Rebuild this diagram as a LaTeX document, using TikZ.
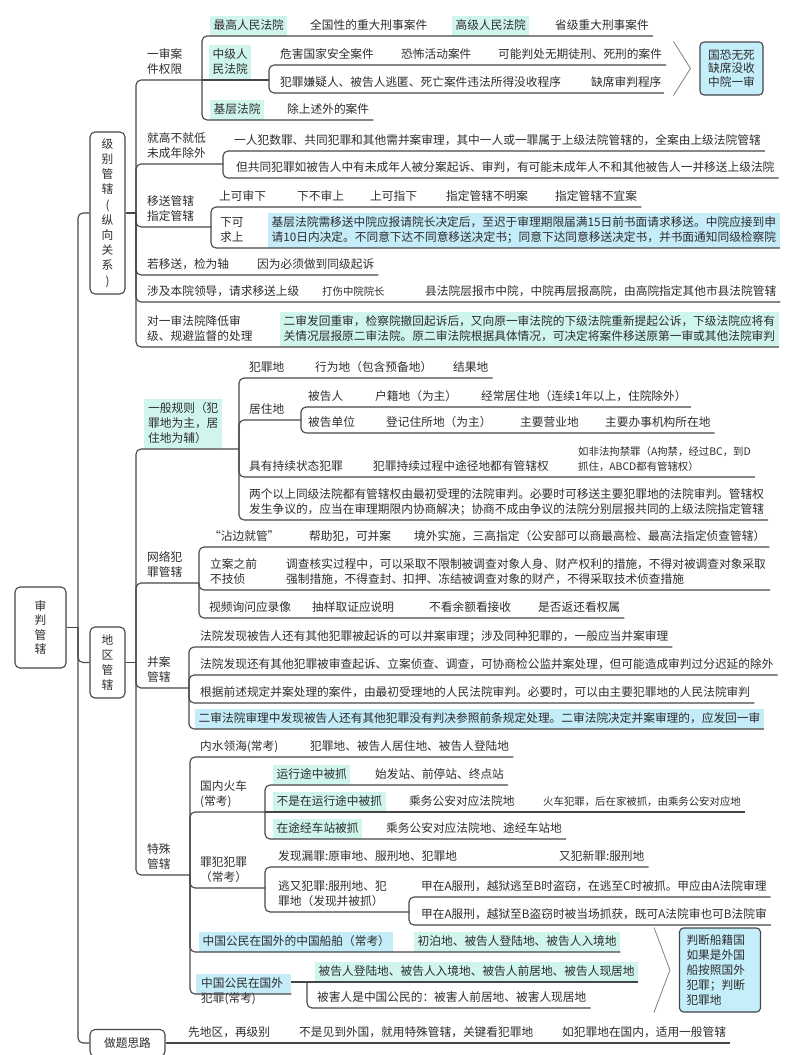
\documentclass[tikz,border=0pt]{standalone}
\usepackage{fontspec}
\setmainfont{Noto Sans CJK SC}
\usepackage{tikz}

\definecolor{linec}{RGB}{70,70,70}
\definecolor{textc}{RGB}{45,45,45}
\definecolor{mint}{RGB}{208,245,236}
\definecolor{sky}{RGB}{196,236,249}
\definecolor{callout}{RGB}{196,238,250}

\newcommand\txtsz{\fontsize{11.7}{15}\selectfont}
\newcommand\smsz{\fontsize{10.4}{15}\selectfont}

\tikzset{
	topic/.style={draw=linec, line width=1.1pt, fill=white, rounded corners=5pt, align=center, font=\txtsz, text=textc, inner sep=0pt},
	leaf/.style={anchor=south west, inner xsep=0pt, inner ysep=3.5pt, text depth=2.5pt, align=left, font=\txtsz, text=textc},
	hlm/.style={leaf, fill=mint, inner xsep=3.5pt, inner ysep=3.5pt},
	hlb/.style={leaf, fill=sky, inner xsep=3.5pt, inner ysep=3.5pt},
	aside/.style={leaf, font=\smsz},
	callbox/.style={draw=linec, line width=1.1pt, fill=callout, rounded corners=4pt, align=left, text=textc},
	link/.style={every edge/.style={draw=linec, line width=1.1pt, rounded corners=5pt}, to path={|- (\tikztotarget)}},
	flat/.style={every edge/.style={draw=linec, line width=1.1pt}},
	fold/.style={draw=gray, line width=0.8pt},
}

\begin{document}
\begin{tikzpicture}[x=1pt,y=-1pt]
	\useasboundingbox (0,0) rectangle (800,1055);

	\node[topic, minimum width=51pt, minimum height=81pt, font=\fontsize{11.7}{14.5}\selectfont] (root) at (40.5,627.5) {审\\判\\管\\辖};
	\node[topic, minimum width=35pt, minimum height=162pt, font=\fontsize{11.7}{15.2}\selectfont] (jibie) at (107.5,213) {级\\别\\管\\辖\\(\\纵\\向\\关\\系\\)};
	\node[topic, minimum width=35pt, minimum height=71pt] (diqu) at (107.5,662.5) {地\\区\\管\\辖};
	\node[topic, minimum width=75pt, minimum height=27pt] (zuoti) at (127.5,1043) {做题思路};

	\coordinate (mj) at (78,627.5);
	\path [flat] (root.east) edge (mj);
	\path [link] (mj) edge (jibie.west) edge (diqu.west) edge (zuoti.west);

	\coordinate (jb) at (136,213);
	\path [flat] (jibie.east) edge (jb);

	\node[leaf] (ysqx) at (147,80) {一审案\\件权限};
	\coordinate (ysj) at (202,80);
	\node[hlm] (zgfy) at (210,36) {最高人民法院};
	\node[leaf] (zgaj) at (310,36) {全国性的重大刑事案件};
	\node[hlm] (gjfy) at (452,36) {高级人民法院};
	\node[leaf] (gjaj) at (555,36) {省级重大刑事案件};
	\node[hlm] (zjfy) at (209,80) {中级人\\民法院};
	\coordinate (zjj) at (269,80);
	\node[leaf] (whaq) at (280,65) {危害国家安全案件};
	\node[leaf] (kbhd) at (401,65) {恐怖活动案件};
	\node[leaf] (knpc) at (498,65) {可能判处无期徒刑、死刑的案件};
	\node[leaf] (mssx) at (280,93) {犯罪嫌疑人、被告人逃匿、死亡案件违法所得没收程序};
	\node[leaf] (qxsp) at (591,93) {缺席审判程序};
	\coordinate (zj1) at (666,65);
	\coordinate (zj2) at (664,93);
	\node[hlm] (jcfy) at (210,120) {基层法院};
	\node[leaf] (jcaj) at (287,120) {除上述外的案件};
	\node[callbox, minimum width=63pt, minimum height=53pt, inner xsep=5pt, font=\fontsize{11.7}{13.5}\selectfont] (gkws) at (731.5,68.5) {国恐无死\\缺席没收\\中院一审};
	\draw[fold] ([xshift=-26pt]gkws.north west) -- ([xshift=-9pt]gkws.west) -- ([xshift=-26pt]gkws.south west);

	\path [link] (jb) edge (ysj);
	\path [link] (ysj) edge ([xshift=4pt]gjaj.south east) edge ([xshift=4pt]jcaj.south east);
	\path [flat] (ysj) edge (zjj);
	\path [link] (zjj) edge (zj1) edge (zj2);

	\node[leaf] (jgbd) at (147,164) {就高不就低\\未成年除外};
	\coordinate (jgj) at (223,164);
	\node[leaf] (bgx1) at (234,151) {一人犯数罪、共同犯罪和其他需并案审理，其中一人或一罪属于上级法院管辖的，全案由上级法院管辖};
	\node[leaf] (bgx2) at (236,178) {但共同犯罪如被告人中有未成年人被分案起诉、审判，有可能未成年人不和其他被告人一并移送上级法院};
	\path [link] (jb) edge (jgj);
	\path [link] (jgj) edge ([xshift=4pt]bgx1.south east) edge ([xshift=4pt]bgx2.south east);

	\node[leaf] (yszd) at (147,227) {移送管辖\\指定管辖};
	\coordinate (yzj) at (211,227);
	\node[leaf] (sksx) at (219,207) {上可审下};
	\node[leaf] (xbss) at (297,207) {下不审上};
	\node[leaf] (skzx) at (370,207) {上可指下};
	\node[leaf] (zdbm) at (446,207) {指定管辖不明案};
	\node[leaf] (zdby) at (555,207) {指定管辖不宜案};
	\node[leaf] (xkqs) at (220,248) {下可\\求上};
	\node[hlb] (qsgc) at (268,248) {基层法院需移送中院应报请院长决定后，至迟于审理期限届满15日前书面请求移送。中院应接到申\\请10日内决定。不同意下达不同意移送决定书；同意下达同意移送决定书，并书面通知同级检察院};
	\path [link] (jb) edge (yzj);
	\path [link] (yzj) edge ([xshift=4pt]zdby.south east) edge (qsgc.south east);

	\node[leaf] (rysj) at (147,275) {若移送，检为轴};
	\node[leaf] (tjqs) at (257,275) {因为必须做到同级起诉};
	\path [link] (jb) edge ([xshift=4pt]tjqs.south east);

	\node[leaf] (sjld) at (147,302) {涉及本院领导，请求移送上级};
	\node[aside] (dszy) at (322,302) {打伤中院院长};
	\node[leaf] (xfyb) at (425,302) {县法院层报市中院，中院再层报高院，由高院指定其他市县法院管辖};
	\path [link] (jb) edge ([xshift=4pt]xfyb.south east);

	\node[leaf] (jdsj) at (147,347) {对一审法院降低审\\级、规避监督的处理};
	\node[hlm] (ecfh) at (280,347) {二审发回重审，检察院撤回起诉后，又向原一审法院的下级法院重新提起公诉，下级法院应将有\\关情况层报原二审法院。原二审法院根据具体情况，可决定将案件移送原第一审或其他法院审判};
	\path [link] (jb) edge (ecfh.south east);

	\coordinate (dq) at (136,662.5);
	\path [flat] (diqu.east) edge (dq);

	\node[hlm, inner xsep=4pt] (ybgz) at (144,449) {一般规则（犯\\罪地为主，居\\住地为辅）};
	\coordinate (ybj) at (239,449);
	\node[leaf] (fzd) at (249,378) {犯罪地};
	\node[leaf] (xwd) at (315,378) {行为地（包含预备地）};
	\node[leaf] (jgd) at (453,378) {结果地};
	\node[leaf] (jzd) at (249,420) {居住地};
	\coordinate (jzj) at (301,420);
	\node[leaf] (bgr) at (308,407) {被告人};
	\node[leaf] (hjd) at (375,407) {户籍地（为主）};
	\node[leaf] (jcjz) at (481,407) {经常居住地（连续1年以上，住院除外）};
	\node[leaf] (bgdw) at (308,433) {被告单位};
	\node[leaf] (djzs) at (386,433) {登记住所地（为主）};
	\node[leaf] (zyyy) at (520,433) {主要营业地};
	\node[leaf] (zybs) at (605,433) {主要办事机构所在地};
	\node[leaf] (cxzt) at (249,477) {具有持续状态犯罪};
	\node[leaf] (cxgc) at (373,477) {犯罪持续过程中途径地都有管辖权};
	\node[aside] (fflj) at (578,477) {如非法拘禁罪（A拘禁，经过BC，到D\\抓住，ABCD都有管辖权）};
	\node[leaf] (lgyx) at (249,520) {两个以上同级法院都有管辖权由最初受理的法院审判。必要时可移送主要犯罪地的法院审判。管辖权\\发生争议的，应当在审理期限内协商解决；协商不成由争议的法院分别层报共同的上级法院指定管辖};
	\path [link] (dq) edge (ybj);
	\path [link] (ybj) edge ([xshift=4pt]jgd.south east) edge (jzj) edge ([xshift=4pt]fflj.south east) edge ([xshift=4pt]lgyx.south east);
	\path [link] (jzj) edge ([xshift=4pt]jcjz.south east) edge ([xshift=4pt]zybs.south east);

	\node[leaf] (wlfz) at (147,583) {网络犯\\罪管辖};
	\coordinate (wlj) at (199,583);
	\node[leaf] (zbjg) at (209,547) {“沾边就管”};
	\node[leaf] (bzf) at (309,547) {帮助犯，可并案};
	\node[leaf] (jwss) at (414,547) {境外实施，三高指定（公安部可以商最高检、最高法指定侦查管辖）};
	\node[leaf] (lazq) at (210,590) {立案之前\\不技侦};
	\node[leaf] (dchs) at (286,590) {调查核实过程中，可以采取不限制被调查对象人身、财产权利的措施，不得对被调查对象采取\\强制措施，不得查封、扣押、冻结被调查对象的财产，不得采取技术侦查措施};
	\node[leaf] (spxw) at (209,618) {视频询问应录像};
	\node[leaf] (cyqz) at (312,618) {抽样取证应说明};
	\node[leaf] (bkye) at (429,618) {不看余额看接收};
	\node[leaf] (sfhh) at (538,618) {是否返还看权属};
	\path [link] (dq) edge (wlj);
	\path [link] (wlj) edge ([xshift=4pt]jwss.south east) edge ([xshift=4pt]dchs.south east) edge ([xshift=4pt]sfhh.south east);

	\node[leaf] (bagx) at (147,688) {并案\\管辖};
	\coordinate (baj) at (189,688);
	\node[leaf] (ba1) at (200,647) {法院发现被告人还有其他犯罪被起诉的可以并案审理；涉及同种犯罪的，一般应当并案审理};
	\node[leaf] (ba2) at (200,675) {法院发现还有其他犯罪被审查起诉、立案侦查、调查，可协商检公监并案处理，但可能造成审判过分迟延的除外};
	\node[leaf] (ba3) at (200,703) {根据前述规定并案处理的案件，由最初受理地的人民法院审判。必要时，可以由主要犯罪地的人民法院审判};
	\node[hlb] (ba4) at (195,729) {二审法院审理中发现被告人还有其他犯罪没有判决参照前条规定处理。二审法院决定并案审理的，应发回一审};
	\path [link] (dq) edge (baj);
	\path [link] (baj) edge ([xshift=4pt]ba1.south east) edge ([xshift=4pt]ba2.south east) edge ([xshift=4pt]ba3.south east) edge (ba4.south east);

	\node[leaf] (tsgx) at (147,875) {特殊\\管辖};
	\coordinate (tsj) at (190,875);
	\node[leaf] (nsls) at (200,757) {内水领海(常考)};
	\node[leaf] (nslb) at (310,757) {犯罪地、被告人居住地、被告人登陆地};
	\node[leaf] (gnhc) at (200,812) {国内火车\\(常考)};
	\coordinate (hcj) at (265,812);
	\node[hlm] (yxtz) at (273,785) {运行途中被抓};
	\node[leaf] (sfzd) at (375,785) {始发站、前停站、终点站};
	\node[hlm] (bszy) at (273,812) {不是在运行途中被抓};
	\node[leaf] (cwga) at (409,812) {乘务公安对应法院地};
	\node[aside] (hcfz) at (543,812) {火车犯罪，后在家被抓，由乘务公安对应地};
	\node[hlm] (tjcz) at (273,839) {在途经车站被抓};
	\node[leaf] (cwtj) at (386,839) {乘务公安对应法院地、途经车站地};
	\node[leaf] (zffz) at (200,888) {罪犯犯罪\\（常考）};
	\coordinate (zfj) at (265,888);
	\node[leaf] (fxlz) at (278,867) {发现漏罪:原审地、服刑地、犯罪地};
	\node[leaf] (yfxz) at (559,867) {又犯新罪:服刑地};
	\node[leaf] (tyfz) at (278,912) {逃又犯罪:服刑地、犯\\罪地（发现并被抓）};
	\coordinate (tyj) at (409,912);
	\node[leaf] (tya) at (421,897) {甲在A服刑，越狱逃至B时盗窃，在逃至C时被抓。甲应由A法院审理};
	\node[leaf] (tyb) at (421,925) {甲在A服刑，越狱至B盗窃时被当场抓获，既可A法院审也可B法院审};
	\node[hlb] (zgcb) at (199,952) {中国公民在国外的中国船舶（常考）};
	\node[hlm] (cbd) at (414,952) {初泊地、被告人登陆地、被告人入境地};
	\node[hlb, text width=85pt, inner xsep=5pt] (zggw) at (196,994) {中国公民在国外\\犯罪(常考)};
	\coordinate (gwj) at (307,982);
	\node[hlm] (gwa) at (315,982) {被告人登陆地、被告人入境地、被告人前居地、被告人现居地};
	\node[leaf] (gwb) at (317,1008) {被害人是中国公民的：被害人前居地、被害人现居地};
	\node[callbox, text width=67pt, inner xsep=7pt, minimum height=84pt, font=\fontsize{11.7}{15}\selectfont] (pdcj) at (720,970) {判断船籍国\\如果是外国\\船按照国外\\犯罪；判断\\犯罪地};
	\draw[fold] ([xshift=-25pt]pdcj.north west) -- ([xshift=-9pt]pdcj.west) -- ([xshift=-25pt]pdcj.south west);

	\path [link] (dq) edge (tsj);
	\path [link] (tsj) edge ([xshift=4pt]nslb.south east) edge (hcj) edge (zfj) edge (cbd.south east) edge (zggw.south east);
	\path [link] (hcj) edge ([xshift=4pt]sfzd.south east) edge ([xshift=4pt]cwtj.south east);
	\path [flat] (hcj) edge ([xshift=4pt]hcfz.south east);
	\path [link] (zfj) edge ([xshift=4pt]yfxz.south east) edge (tyj);
	\path [link] (tyj) edge ([xshift=4pt]tya.south east) edge ([xshift=4pt]tyb.south east);
	\path [flat] (zggw.east |- gwj) edge (gwa.south east);
	\path [link] (gwj) edge ([xshift=4pt]gwb.south east);

	\node[leaf] (xdq) at (188,1043) {先地区，再级别};
	\node[leaf] (bsjd) at (299,1043) {不是见到外国，就用特殊管辖，关键看犯罪地};
	\node[leaf] (rfzd) at (562,1043) {如犯罪地在国内，适用一般管辖};
	\path [flat] (zuoti.east) edge ([xshift=4pt]rfzd.south east);
\end{tikzpicture}
\end{document}
